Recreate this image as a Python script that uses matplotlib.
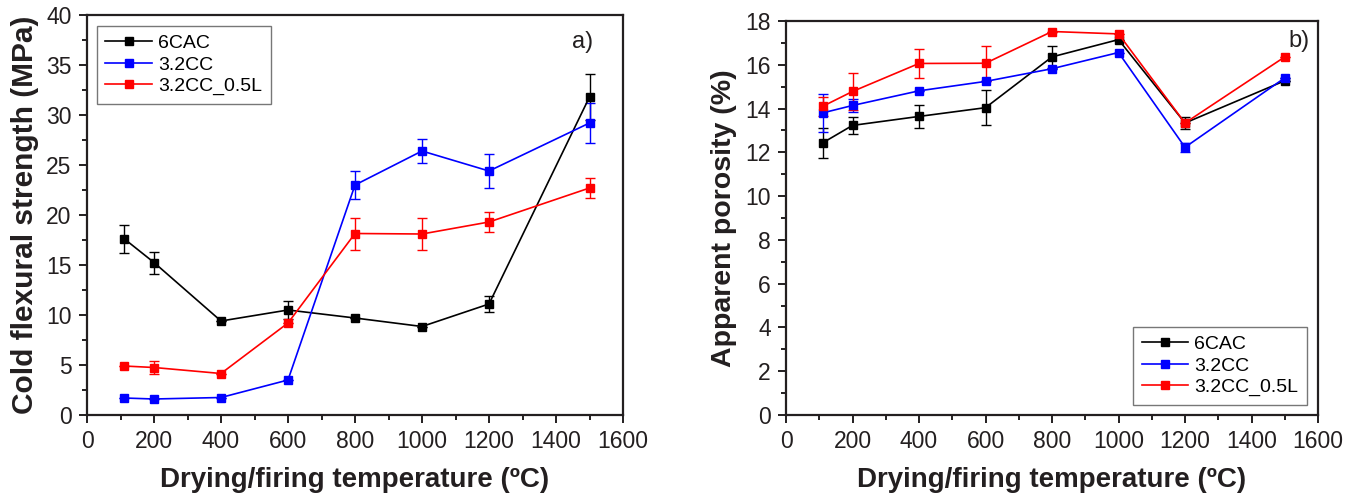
import matplotlib.pyplot as plt
from matplotlib.ticker import MultipleLocator
import numpy as np

# temperatures
temp = np.array([110, 200, 400, 600, 800, 1000, 1200, 1500])
series = ['6CAC', '3.2CC', '3.2CC_0.5L']
colors = ['black', '#0000ff', '#ff0000']

# cold flexural strength (MPa)
cfs_6cac = [17.65, 15.25, 9.4, 10.5, 9.7, 8.85, 11.1, 31.8]
cfs_6cac_err = [1.4, 1.1, 0.0, 0.9, 0.0, 0.0, 0.8, 2.3]
cfs_32cc = [1.7, 1.6, 1.75, 3.5, 23.0, 26.4, 24.4, 29.2]
cfs_32cc_err = [0.0, 0.0, 0.0, 0.0, 1.36, 1.16, 1.7, 2.0]
cfs_32cc05 = [4.9, 4.75, 4.15, 9.2, 18.15, 18.1, 19.3, 22.7]
cfs_32cc05_err = [0.0, 0.65, 0.0, 0.0, 1.6, 1.6, 1.0, 1.0]

# apparent porosity (%)
ap_6cac = [12.43, 13.23, 13.64, 14.04, 16.36, 17.15, 13.34, 15.27]
ap_6cac_err = [0.7, 0.39, 0.53, 0.8, 0.5, 0.0, 0.28, 0.0]
ap_32cc = [13.8, 14.14, 14.81, 15.24, 15.82, 16.56, 12.23, 15.4]
ap_32cc_err = [0.88, 0.3, 0.0, 0.0, 0.0, 0.0, 0.2, 0.0]
ap_32cc05 = [14.1, 14.78, 16.06, 16.07, 17.52, 17.41, 13.34, 16.36]
ap_32cc05_err = [0.45, 0.85, 0.65, 0.8, 0.0, 0.0, 0.0, 0.0]

plt.rcParams['font.family'] = ['Liberation Sans', 'DejaVu Sans']
txt = '#231f20'

fig = plt.figure(figsize=(13.62, 4.93), dpi=100)
ax1 = fig.add_axes([87 / 1362, 78 / 493, 536 / 1362, 400 / 493])
ax2 = fig.add_axes([786 / 1362, 78 / 493, 532 / 1362, 394 / 493])


def draw(ax, data, errs):
    handles = []
    for y, e, c, name in zip(data, errs, colors, series):
        eb = ax.errorbar(temp, y, yerr=e, color=c, marker='s', markersize=6.4,
                         lw=1.2, elinewidth=1.0, capsize=3.5, capthick=1.0,
                         label=name)
        handles.append(eb[0])  # plain line + marker for the legend
    for s in ax.spines.values():
        s.set_linewidth(1.6)
        s.set_color(txt)
    ax.set_xlim(0, 1600)
    ax.xaxis.set_major_locator(MultipleLocator(200))
    ax.xaxis.set_minor_locator(MultipleLocator(100))
    ax.tick_params(which='both', direction='out', top=False, right=False,
                   colors=txt, labelsize=16.5, width=1.4, pad=5)
    ax.tick_params(which='major', length=6)
    ax.tick_params(which='minor', length=3.5)
    ax.set_xlabel('Drying/firing temperature (ºC)', fontsize=20,
                  fontweight='bold', color=txt, labelpad=10)
    return handles


def legend(ax, handles, loc, anchor):
    leg = ax.legend(handles, series, loc=loc, bbox_to_anchor=anchor,
                    borderaxespad=0, fontsize=14, frameon=True,
                    fancybox=False, handlelength=2.4, handletextpad=0.3,
                    labelspacing=0.2, borderpad=0.45)
    leg.get_frame().set_edgecolor('#555555')
    leg.get_frame().set_linewidth(1.0)


h1 = draw(ax1, [cfs_6cac, cfs_32cc, cfs_32cc05],
          [cfs_6cac_err, cfs_32cc_err, cfs_32cc05_err])
ax1.set_ylim(0, 40)
ax1.yaxis.set_major_locator(MultipleLocator(5))
ax1.yaxis.set_minor_locator(MultipleLocator(2.5))
ax1.set_ylabel('Cold flexural strength (MPa)', fontsize=21.5,
               fontweight='bold', color=txt, labelpad=5)
ax1.text(0.925, 0.933, 'a)', transform=ax1.transAxes, fontsize=17,
         color=txt, ha='center', va='center')
legend(ax1, h1, 'upper left', (0.018, 0.973))

h2 = draw(ax2, [ap_6cac, ap_32cc, ap_32cc05],
          [ap_6cac_err, ap_32cc_err, ap_32cc05_err])
ax2.set_ylim(0, 18)
ax2.yaxis.set_major_locator(MultipleLocator(2))
ax2.yaxis.set_minor_locator(MultipleLocator(1))
ax2.set_ylabel('Apparent porosity (%)', fontsize=20.5, fontweight='bold',
               color=txt, labelpad=6)
ax2.text(0.965, 0.948, 'b)', transform=ax2.transAxes, fontsize=17,
         color=txt, ha='center', va='center')
legend(ax2, h2, 'lower right', (0.979, 0.025))

fig.savefig('out.png', dpi=100)
